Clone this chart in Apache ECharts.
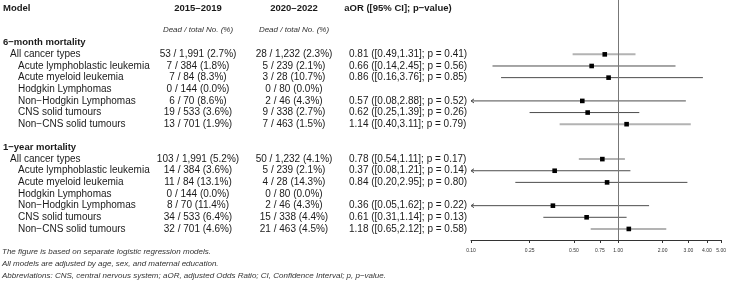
<!DOCTYPE html>
<html>
<head>
<meta charset="utf-8">
<title>Forest plot</title>
<script src="https://cdn.jsdelivr.net/npm/echarts@6/dist/echarts.min.js"></script>
<style>
  html, body { margin: 0; padding: 0; background: #fff; }
  #chart { width: 729px; height: 288px; }
</style>
</head>
<body>
<div id="chart"></div>
<script>
// table rows (same order in both sections)
var categories = ['All cancer types', 'Acute lymphoblastic leukemia', 'Acute myeloid leukemia',
  'Hodgkin Lymphomas', 'Non\u2212Hodgkin Lymphomas', 'CNS solid tumours', 'Non\u2212CNS solid tumours'];
var sections = ['6\u2212month mortality', '1\u2212year mortality'];
var periods = ['2015\u20132019', '2020\u20132022'];

var total1519 = [1991, 384, 84, 144, 70, 533, 701];
var total2022 = [1232, 239, 28, 80, 46, 338, 463];

// 6-month mortality
var dead6m1519 = [53, 7, 7, 0, 6, 19, 13];
var dead6m2022 = [28, 5, 3, 0, 2, 9, 7];
var aor6m = [0.81, 0.66, 0.86, null, 0.57, 0.62, 1.14];
var lo6m  = [0.49, 0.14, 0.16, null, 0.08, 0.25, 0.40];
var hi6m  = [1.31, 2.45, 3.76, null, 2.88, 1.39, 3.11];
var p6m   = [0.41, 0.56, 0.85, null, 0.52, 0.26, 0.79];

// 1-year mortality
var dead1y1519 = [103, 14, 11, 0, 8, 34, 32];
var dead1y2022 = [50, 5, 4, 0, 2, 15, 21];
var aor1y = [0.78, 0.37, 0.84, null, 0.36, 0.61, 1.18];
var lo1y  = [0.54, 0.08, 0.20, null, 0.05, 0.31, 0.65];
var hi1y  = [1.11, 1.21, 2.95, null, 1.62, 1.14, 2.12];
var p1y   = [0.17, 0.14, 0.80, null, 0.22, 0.13, 0.58];

var tickValues = [0.10, 0.25, 0.50, 0.75, 1.00, 2.00, 3.00, 4.00, 5.00];

var footnotes = [
  'The figure is based on separate logistic regression models.',
  'All models are adjusted by age, sex, and maternal education.',
  'Abbreviations: CNS, central nervous system; aOR, adjusted Odds Ratio; CI, Confidence Interval; p, p\u2212value.'
];

var FONT = '"Liberation Sans", Arial, Helvetica, sans-serif';
var xMin = Math.log10(0.1), xMax = Math.log10(5);

// row index on the y axis: section header, then 7 rows; blank row between sections
function rowIndex(s, i) { return s * 9 + 1 + i; }

var blocks = [
  { dead: [dead6m1519, dead6m2022], aor: aor6m, lo: lo6m, hi: hi6m, p: p6m },
  { dead: [dead1y1519, dead1y2022], aor: aor1y, lo: lo1y, hi: hi1y, p: p1y }
];

var ciData = [];
blocks.forEach(function (b, s) {
  categories.forEach(function (c, i) {
    if (b.aor[i] == null) return;
    var light = (i === 0 || i === categories.length - 1) ? 1 : 0;
    ciData.push([Math.log10(b.aor[i]), rowIndex(s, i), Math.log10(b.lo[i]), Math.log10(b.hi[i]), light]);
  });
});

var chart = echarts.init(document.getElementById('chart'));

chart.setOption({
  animation: false,
  grid: { left: 471, right: 7, top: 0, bottom: 48 },
  xAxis: {
    type: 'value', min: xMin, max: xMax,
    splitLine: { show: false },
    axisLine: { show: true, onZero: false, lineStyle: { color: '#333', width: 1 } },
    axisTick: { show: true, length: 3, lineStyle: { color: '#333' },
      customValues: tickValues.map(function (v) { return Math.log10(v); }) },
    axisLabel: {
      fontSize: 5, color: '#333', margin: 8, fontFamily: FONT,
      customValues: tickValues.map(function (v) { return Math.log10(v); }),
      formatter: function (v) { return Math.pow(10, v).toFixed(2); }
    }
  },
  yAxis: { type: 'value', inverse: true, min: -3.67, max: 16.95, show: false },
  series: [
    {
      type: 'scatter', data: [], silent: true,
      markLine: {
        silent: true, symbol: 'none', label: { show: false },
        lineStyle: { color: '#777', width: 1, type: 'solid' },
        data: [{ xAxis: 0 }]
      }
    },
    {
      type: 'custom', clip: false,
      data: ciData,
      renderItem: function (params, api) {
        var lo = api.value(2), hi = api.value(3);
        var clipped = lo < xMin;
        var p0 = api.coord([Math.max(lo, xMin), api.value(1)]);
        var p1 = api.coord([hi, api.value(1)]);
        var pm = api.coord([api.value(0), api.value(1)]);
        var light = api.value(4) === 1;
        var stroke = light ? '#b3b3b3' : '#4d4d4d';
        var children = [{
          type: 'line',
          shape: { x1: p0[0], y1: p0[1], x2: p1[0], y2: p1[1] },
          style: { stroke: stroke, lineWidth: light ? 2 : 1 }
        }];
        if (clipped) {
          children.push({
            type: 'polyline',
            shape: { points: [[p0[0] + 3, p0[1] - 2], [p0[0], p0[1]], [p0[0] + 3, p0[1] + 2]] },
            style: { stroke: stroke, fill: 'none', lineWidth: 1 }
          });
        }
        children.push({
          type: 'rect',
          shape: { x: pm[0] - 2.3, y: pm[1] - 2.3, width: 4.6, height: 4.6 },
          style: { fill: '#000' }
        });
        return { type: 'group', children: children };
      }
    }
  ]
});

// table text placed on the same row positions as the plot
var txt = { fill: '#1a1a1a', fontSize: 10, fontFamily: FONT };
var g = [];
function addText(x, y, text, align, extra) {
  var style = Object.assign({ text: text, x: x, y: y, textAlign: align, textVerticalAlign: 'middle' }, txt, extra || {});
  g.push({ type: 'text', silent: true, style: style });
}
var bold = { fontWeight: 'bold', fontSize: 9.5 };
var ital = { fontStyle: 'italic', fontSize: 8, fill: '#333' };

var colX = [198, 294];
addText(3, 8, 'Model', 'left', bold);
addText(colX[0], 8, periods[0], 'center', bold);
addText(colX[1], 8, periods[1], 'center', bold);
addText(398, 8, 'aOR ([95% CI]; p\u2212value)', 'center', bold);
addText(colX[0], 30, 'Dead / total No. (%)', 'center', ital);
addText(colX[1], 30, 'Dead / total No. (%)', 'center', ital);

function yOf(idx) { return chart.convertToPixel({ gridIndex: 0 }, [0, idx])[1]; }
function frac(d, t) { return d + ' / ' + t.toLocaleString('en-US') + ' (' + (100 * d / t).toFixed(1) + '%)'; }

blocks.forEach(function (b, s) {
  addText(3, yOf(s * 9), sections[s], 'left', bold);
  categories.forEach(function (c, i) {
    var y = yOf(rowIndex(s, i));
    addText(i === 0 ? 10 : 18, y, c, 'left');
    addText(colX[0], y, frac(b.dead[0][i], total1519[i]), 'center');
    addText(colX[1], y, frac(b.dead[1][i], total2022[i]), 'center');
    if (b.aor[i] != null) {
      addText(349, y, b.aor[i].toFixed(2) + ' ([' + b.lo[i].toFixed(2) + ',' + b.hi[i].toFixed(2) +
        ']; p = ' + b.p[i].toFixed(2) + ')', 'left');
    }
  });
});

footnotes.forEach(function (f, k) {
  addText(2, 252 + k * 12, f, 'left', ital);
});

chart.setOption({ graphic: g });
</script>
</body>
</html>
